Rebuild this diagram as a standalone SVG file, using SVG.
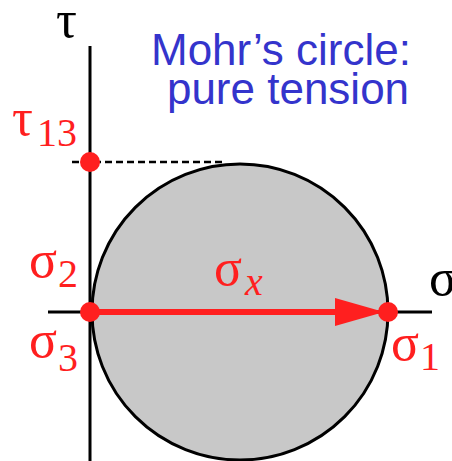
<svg xmlns="http://www.w3.org/2000/svg" width="452" height="461" viewBox="0 0 452 461">
<style>
.ax{stroke:#000;stroke-width:3;fill:none}
.red{fill:#ff1f1f}
.gk{font-family:"Liberation Serif","Times New Roman","DejaVu Serif",serif;font-size:52px}
.sub{font-family:"Liberation Serif","Times New Roman","DejaVu Serif",serif;font-size:40px}
.ttl{font-family:"Liberation Sans","DejaVu Sans",sans-serif;font-size:44px;fill:#3434cc;text-anchor:middle}
</style>
<rect width="452" height="461" fill="#fff"/>
<g id="circle">
<circle cx="240" cy="312" r="148" fill="#c8c8c8" stroke="#000" stroke-width="3"/>
</g>
<g id="axes">
<line class="ax" x1="90" y1="46" x2="90" y2="461"/>
<line class="ax" x1="48" y1="312" x2="432" y2="312"/>
<text class="gk" x="56" y="37" fill="#000">τ</text>
<text class="gk" x="429" y="295" fill="#000">σ</text>
</g>
<g id="connectors">
<line x1="72" y1="162" x2="222" y2="162" stroke="#000" stroke-width="2.5" stroke-dasharray="7 4"/>
<line x1="90" y1="312" x2="340" y2="312" stroke="#ff1f1f" stroke-width="6"/>
<polygon class="red" points="335,298 384,312 335,326"/>
</g>
<g id="tau13">
<circle class="red" cx="90" cy="162" r="10"/>
<text class="gk red" x="12" y="135">τ</text>
<text class="sub red" x="37" y="146">13</text>
</g>
<g id="sigma23">
<circle class="red" cx="90" cy="312" r="10"/>
<text class="gk red" x="29" y="277">σ</text>
<text class="sub red" x="58" y="287">2</text>
<text class="gk red" x="29" y="357">σ</text>
<text class="sub red" x="58" y="371">3</text>
</g>
<g id="sigma1">
<circle class="red" cx="388" cy="312" r="10"/>
<text class="gk red" x="391" y="360">σ</text>
<text class="sub red" x="420" y="370">1</text>
</g>
<g id="sigmax">
<text class="gk red" x="214" y="285">σ</text>
<text class="sub red" x="245" y="295" font-style="italic">x</text>
</g>
<g id="title">
<text class="ttl" x="281" y="65">Mohr’s circle:</text>
<text class="ttl" x="288" y="104">pure tension</text>
</g>
</svg>
